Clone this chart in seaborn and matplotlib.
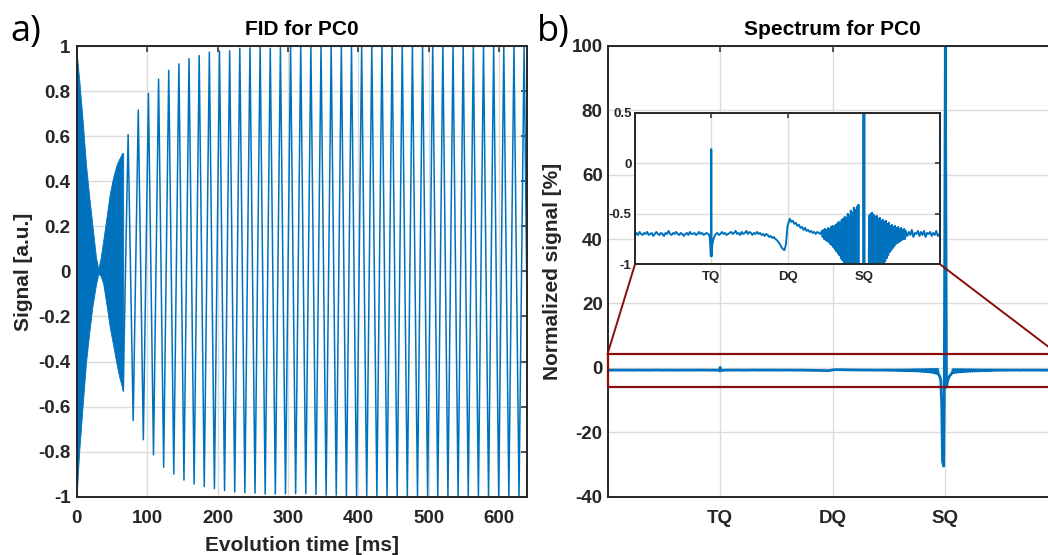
import numpy as np
import pandas as pd
import seaborn as sns
import matplotlib
matplotlib.use("Agg")
import matplotlib.pyplot as plt
from matplotlib.patches import Rectangle, ConnectionPatch

# ---------------- data: FID (panel a) ----------------
# dense part (0-66 ms): upper / lower envelope
dense_t = [0.0, 0.5, 3.5, 8.3, 13.0, 17.8, 22.5, 27.3, 30.6, 34.0, 37.7, 42.4, 47.1, 51.9, 56.6, 60.5, 64.6, 66.0]
dense_up = [1.0, 0.95, 0.853, 0.674, 0.48, 0.33, 0.198, 0.064, 0.01, 0.06, 0.138, 0.243, 0.347, 0.42, 0.473, 0.50, 0.525, 0.525]
dense_lo = [-0.97, -0.96, -0.80, -0.60, -0.41, -0.27, -0.15, -0.06, -0.01, -0.02, -0.055, -0.15, -0.25, -0.33, -0.41, -0.47, -0.516, -0.53]

# sparse part: alternating maxima / minima of the sampled signal
fid_start = (66.0, -0.53)
top_t0, bot_t0, fid_period = 73.0, 80.2, 14.42
top_vals = [0.607, 0.716, 0.790, 0.853, 0.892, 0.921, 0.944, 0.958, 0.973, 0.978,
            0.979, 0.990, 0.992, 0.995, 0.990, 0.993, 0.998, 0.999, 1.0, 1.0,
            1.0, 0.999, 1.0, 1.0, 1.0, 0.999, 1.0, 1.0, 1.0, 1.0,
            1.0, 1.0, 0.999, 1.0, 1.0, 1.0, 1.0, 1.0, 1.0, 1.0]
bot_vals = [-0.662, -0.747, -0.814, -0.869, -0.899, -0.926, -0.944, -0.955, -0.964, -0.973,
            -0.979, -0.982, -0.984, -0.988, -0.988, -0.987, -0.986, -0.986, -0.990, -0.993,
            -0.993, -0.995, -0.996, -0.996, -0.997, -0.997, -0.998, -0.998, -0.998, -0.999,
            -0.999, -0.999, -0.999, -1.0, -1.0, -0.999, -1.0, -1.0, -1.0, -1.0]

# ---------------- data: spectrum (panel b) ----------------
base1_x = np.round(np.arange(0.0, 0.961, 0.02), 3)
base1_y = [-0.72, -0.69, -0.71, -0.68, -0.70, -0.71, -0.69, -0.70, -0.68, -0.71,
           -0.70, -0.69, -0.72, -0.70, -0.68, -0.70, -0.71, -0.69, -0.70, -0.72,
           -0.69, -0.70, -0.67, -0.70, -0.71, -0.69, -0.70, -0.68, -0.70, -0.71,
           -0.69, -0.70, -0.72, -0.70, -0.69, -0.71, -0.68, -0.70, -0.70, -0.69,
           -0.71, -0.70, -0.68, -0.70, -0.69, -0.71, -0.70, -0.69, -0.70]
tq_x = [0.975, 0.985, 0.995, 1.0, 1.005, 1.015, 1.03, 1.045]
tq_y = [-0.71, -0.78, -0.92, 0.14, -0.92, -0.80, -0.75, -0.72]
base2_x = np.round(np.arange(1.06, 1.921, 0.02), 3)
base2_y = [-0.70, -0.69, -0.71, -0.70, -0.68, -0.70, -0.69, -0.71, -0.70, -0.69,
           -0.68, -0.70, -0.69, -0.67, -0.70, -0.69, -0.71, -0.68, -0.70, -0.69,
           -0.67, -0.70, -0.68, -0.69, -0.71, -0.69, -0.70, -0.68, -0.70, -0.69,
           -0.71, -0.70, -0.72, -0.70, -0.71, -0.73, -0.72, -0.74, -0.73, -0.75,
           -0.76, -0.78, -0.80, -0.83]
dq_x = [1.94, 1.96, 1.98, 2.0, 2.03, 2.05, 2.07, 2.09, 2.11, 2.13, 2.15, 2.17, 2.19,
        2.21, 2.23, 2.25, 2.27, 2.29, 2.31, 2.33, 2.35, 2.37, 2.39, 2.41, 2.43]
dq_y = [-0.85, -0.86, -0.80, -0.62, -0.55, -0.58, -0.57, -0.60, -0.59, -0.62, -0.61, -0.64, -0.63,
        -0.66, -0.64, -0.67, -0.66, -0.68, -0.67, -0.69, -0.68, -0.70, -0.68, -0.69, -0.70]
osc1_x = np.round(np.arange(2.45, 2.951, 0.01), 3)
osc1_y = [-0.67, -0.73, -0.66, -0.75, -0.65, -0.76, -0.66, -0.77, -0.64, -0.78,
          -0.65, -0.80, -0.63, -0.81, -0.62, -0.83, -0.63, -0.85, -0.61, -0.87,
          -0.60, -0.89, -0.58, -0.91, -0.59, -0.94, -0.56, -0.96, -0.55, -0.99,
          -0.53, -1.03, -0.54, -1.08, -0.50, -1.12, -0.52, -1.18, -0.47, -1.25,
          -0.49, -1.32, -0.44, -1.40, -0.46, -1.55, -0.43, -1.75, -0.41, -2.1, -2.6]
sq_x = [2.96, 2.968, 2.975, 2.985, 2.99, 3.0, 3.01, 3.02, 3.03, 3.04, 3.05, 3.06]
sq_y = [-4.0, -12.0, -29.0, -30.5, -12.0, 100.0, -6.0, -4.0, -3.0, -2.4, -2.0, -1.6]
osc2_x = np.round(np.arange(3.07, 3.551, 0.01), 3)
osc2_y = [-0.52, -1.5, -0.50, -1.4, -0.49, -1.3, -0.51, -1.25, -0.53, -1.2,
          -0.52, -1.15, -0.55, -1.1, -0.54, -1.07, -0.57, -1.04, -0.56, -1.01,
          -0.58, -0.97, -0.57, -0.94, -0.60, -0.91, -0.59, -0.88, -0.62, -0.86,
          -0.61, -0.84, -0.63, -0.82, -0.62, -0.80, -0.64, -0.79, -0.63, -0.78,
          -0.65, -0.77, -0.64, -0.76, -0.66, -0.75, -0.65, -0.75, -0.67]
base3_x = np.round(np.arange(3.57, 4.001, 0.02), 3)
base3_y = [-0.72, -0.68, -0.71, -0.66, -0.73, -0.69, -0.70, -0.67, -0.72, -0.68, -0.71,
           -0.67, -0.73, -0.69, -0.70, -0.68, -0.72, -0.69, -0.71, -0.67, -0.72, -0.70]

# ---------------- ticks / labels ----------------
fid_xticks = [0, 100, 200, 300, 400, 500, 600]
fid_yticks = [-1, -0.8, -0.6, -0.4, -0.2, 0, 0.2, 0.4, 0.6, 0.8, 1]
fid_ylabels = ['-1', '-0.8', '-0.6', '-0.4', '-0.2', '0', '0.2', '0.4', '0.6', '0.8', '1']
spec_pos = [1, 2, 3]
spec_names = ['TQ', 'DQ', 'SQ']
spec_yticks = [-40, -20, 0, 20, 40, 60, 80, 100]
inset_yticks = [-1, -0.5, 0, 0.5]
inset_ylabels = ['-1', '-0.5', '0', '0.5']
zoom_box = (-5.8, 4.3)

# ---------------- build tables ----------------
fid_t = [fid_start[0]]
fid_v = [fid_start[1]]
for k in range(len(top_vals)):
    fid_t += [top_t0 + fid_period * k, bot_t0 + fid_period * k]
    fid_v += [top_vals[k], bot_vals[k]]
fid_df = pd.DataFrame({"t": fid_t, "v": fid_v})

spec_df = pd.DataFrame({
    "x": np.concatenate([base1_x, tq_x, base2_x, dq_x, osc1_x, sq_x, osc2_x, base3_x]),
    "y": np.concatenate([base1_y, tq_y, base2_y, dq_y, osc1_y, sq_y, osc2_y, base3_y]),
})

# ---------------- style ----------------
sns.set_theme(style="white")
plt.rcParams['font.family'] = ['Liberation Sans', 'DejaVu Sans']
plt.rcParams['font.weight'] = 'bold'
plt.rcParams['axes.unicode_minus'] = False

BLUE = '#0072BD'
DARK = '#262626'
RED = '#8a0c0c'
GRID = '#dcdcdc'

fig = plt.figure(figsize=(10.48, 5.55), dpi=100)
axA = fig.add_axes([0.0732, 0.105, 0.430, 0.812])
axB = fig.add_axes([0.5797, 0.105, 0.4298, 0.8126])
axI = fig.add_axes([0.6059, 0.5238, 0.2911, 0.2732])


def style(ax, size, xpad, ypad, tlen=4.5):
    ax.set_facecolor('white')
    ax.grid(True, color=GRID, lw=1.0)
    ax.set_axisbelow(True)
    for s in ax.spines.values():
        s.set_color(DARK)
        s.set_linewidth(1.4)
        s.set_visible(True)
    ax.tick_params(direction='in', top=True, right=True, length=tlen, width=1.1,
                   color=DARK, labelcolor=DARK, labelsize=size)
    ax.tick_params(axis='x', pad=xpad)
    ax.tick_params(axis='y', pad=ypad)


# ---- panel a ----
axA.fill_between(dense_t, dense_lo, dense_up, color=BLUE, lw=0.6, ec=BLUE)
sns.lineplot(data=fid_df, x="t", y="v", ax=axA, color=BLUE, linewidth=1.1,
             estimator=None, sort=False)
axA.set_xlim(0, 640)
axA.set_ylim(-1, 1)
axA.set_xticks(fid_xticks)
axA.set_yticks(fid_yticks)
axA.set_yticklabels(fid_ylabels)
style(axA, 13.5, 9.5, 4.5)
axA.set_title('FID for PC0', fontsize=15, fontweight='bold', color='black', pad=8)
axA.set_xlabel('Evolution time [ms]', fontsize=15, fontweight='bold', color=DARK)
axA.set_ylabel('Signal [a.u.]', fontsize=15, fontweight='bold', color=DARK)
axA.xaxis.set_label_coords(0.5, -0.088)
axA.yaxis.set_label_coords(-0.097, 0.5)

# ---- panel b ----
sns.lineplot(data=spec_df, x="x", y="y", ax=axB, color=BLUE, linewidth=2.0,
             estimator=None, sort=False)
axB.set_xlim(0, 4)
axB.set_ylim(-40, 100)
axB.set_xticks(spec_pos)
axB.set_xticklabels(spec_names)
axB.set_yticks(spec_yticks)
style(axB, 13.5, 9.5, 3.5)
axB.set_title('Spectrum for PC0', fontsize=15, fontweight='bold', color='black', pad=8)
axB.set_xlabel('')
axB.set_ylabel('Normalized signal [%]', fontsize=15, fontweight='bold', color=DARK)
axB.yaxis.set_label_coords(-0.102, 0.5)

axB.add_patch(Rectangle((0, zoom_box[0]), 4, zoom_box[1] - zoom_box[0], fill=False,
                        ec=RED, lw=1.6, clip_on=False, zorder=5))

# ---- inset ----
sns.lineplot(data=spec_df, x="x", y="y", ax=axI, color=BLUE, linewidth=1.4,
             estimator=None, sort=False)
axI.set_xlim(0, 4)
axI.set_ylim(-1, 0.5)
axI.set_xticks(spec_pos)
axI.set_xticklabels(spec_names)
axI.set_yticks(inset_yticks)
axI.set_yticklabels(inset_ylabels)
style(axI, 9.5, 5, 2.5, tlen=3.5)
axI.set_xlabel('')
axI.set_ylabel('')

for xa, xi in [(0, 0), (4, 1)]:
    cp = ConnectionPatch(xyA=(xa, zoom_box[1]), coordsA=axB.transData,
                         xyB=(xi, 0), coordsB=axI.transAxes,
                         color=RED, lw=1.4, zorder=6)
    fig.add_artist(cp)

# panel letters
fig.text(0.0095, 0.926, 'a)', fontsize=26, fontweight='normal',
         family=['Open Sans', 'DejaVu Sans'], color='black', va='baseline')
fig.text(0.5125, 0.926, 'b)', fontsize=26, fontweight='normal',
         family=['Open Sans', 'DejaVu Sans'], color='black', va='baseline')

fig.savefig('out.png', dpi=100)
